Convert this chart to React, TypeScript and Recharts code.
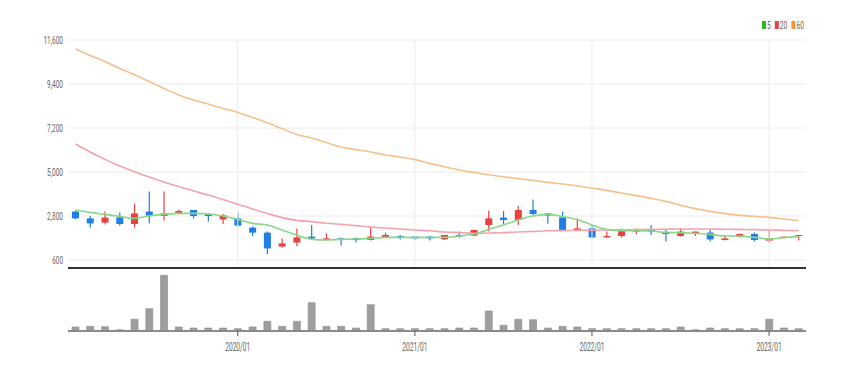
import { ComposedChart, Bar, Line, XAxis, YAxis, CartesianGrid, ReferenceLine } from "recharts"

const months = [
  "2019/02", "2019/03", "2019/04", "2019/05", "2019/06", "2019/07", "2019/08", "2019/09", "2019/10", "2019/11", "2019/12",
  "2020/01", "2020/02", "2020/03", "2020/04", "2020/05", "2020/06", "2020/07", "2020/08", "2020/09", "2020/10", "2020/11", "2020/12",
  "2021/01", "2021/02", "2021/03", "2021/04", "2021/05", "2021/06", "2021/07", "2021/08", "2021/09", "2021/10", "2021/11", "2021/12",
  "2022/01", "2022/02", "2022/03", "2022/04", "2022/05", "2022/06", "2022/07", "2022/08", "2022/09", "2022/10", "2022/11", "2022/12",
  "2023/01", "2023/02", "2023/03",
]

const openPrices = [
  3020, 2680, 2470, 2730, 2400, 3020, 2800, 2930, 3100, 2880, 2630, 2680, 2220, 1970, 1270, 1470, 1770, 1600, 1680, 1680,
  1600, 1730, 1800, 1770, 1770, 1630, 1850, 1820, 2350, 2720, 2600, 3100, 2930, 2730, 2070, 2180, 1730, 1800, 2020, 2130,
  1980, 1800, 1930, 1970, 1600, 1770, 1900, 1570, 1720, 1800,
]
const highPrices = [
  3070, 2800, 3020, 2970, 3400, 4020, 4020, 3130, 3100, 2930, 2900, 2970, 2270, 2020, 1680, 2180, 2350, 1930, 1730, 1730,
  2220, 1970, 1850, 1770, 1800, 1850, 2020, 2130, 3070, 3050, 3300, 3630, 2930, 3020, 2680, 2350, 2020, 2180, 2180, 2350,
  2130, 2180, 2020, 2130, 1850, 1930, 1970, 2100, 1770, 1850,
]
const lowPrices = [
  2630, 2220, 2380, 2320, 2230, 2430, 2570, 2870, 2670, 2520, 2400, 2270, 1800, 900, 1230, 1300, 1600, 1570, 1320, 1470,
  1570, 1700, 1630, 1600, 1570, 1600, 1730, 1800, 2020, 2400, 2350, 2850, 2430, 2050, 2070, 1680, 1730, 1730, 1900, 1850,
  1520, 1770, 1800, 1520, 1570, 1730, 1520, 1480, 1680, 1570,
]
const closePrices = [
  2680, 2430, 2720, 2400, 2930, 2820, 2930, 3050, 2800, 2800, 2830, 2320, 1970, 1180, 1430, 1730, 1680, 1680, 1630, 1600,
  1770, 1850, 1700, 1680, 1680, 1850, 1770, 2100, 2680, 2600, 3100, 2900, 2820, 2070, 2180, 1730, 1800, 2100, 2100, 2020,
  1900, 2020, 2020, 1630, 1680, 1900, 1600, 1680, 1770, 1850,
]
const volumes = [
  400, 470, 430, 130, 1170, 2230, 5570, 400, 300, 300, 300, 230, 400, 970, 470, 970, 2830, 470, 470, 300,
  2630, 230, 230, 230, 230, 230, 300, 300, 2000, 570, 1170, 1130, 300, 470, 400, 230, 230, 230, 230, 230,
  230, 400, 130, 300, 230, 230, 230, 1170, 300, 230,
]
const ma5 = [
  3100, 2980, 2880, 2780, 2680, 2800, 2880, 2930, 2930, 2900, 2800, 2630, 2430, 2350, 2100, 1850, 1630, 1600, 1630, 1650,
  1680, 1730, 1730, 1730, 1730, 1730, 1800, 1900, 2130, 2350, 2600, 2800, 2880, 2770, 2630, 2350, 2130, 2070, 2070, 2050,
  1980, 1970, 1930, 1880, 1800, 1800, 1730, 1650, 1720, 1770,
]
const ma20 = [
  6400, 6000, 5630, 5300, 5020, 4750, 4500, 4270, 4050, 3850, 3620, 3390, 3150, 2930, 2720, 2580, 2520, 2440, 2380, 2320,
  2250, 2200, 2150, 2100, 2060, 2000, 1970, 1940, 1950, 1970, 2000, 2030, 2060, 2070, 2080, 2090, 2100, 2110, 2120, 2130,
  2140, 2150, 2150, 2150, 2140, 2130, 2120, 2100, 2080, 2060,
]
const ma60 = [
  11150, 10830, 10520, 10180, 9860, 9520, 9180, 8850, 8600, 8400, 8180, 7980, 7730, 7460, 7170, 6880, 6700, 6470, 6250, 6120,
  6000, 5850, 5750, 5620, 5430, 5260, 5100, 4980, 4860, 4760, 4670, 4580, 4480, 4400, 4300, 4190, 4080, 3950, 3820, 3680,
  3530, 3340, 3170, 3030, 2920, 2830, 2780, 2730, 2650, 2570,
]

const priceTicks = [600, 2800, 5000, 7200, 9400, 11600]
const yearTicks = ["2020/01", "2021/01", "2022/01", "2023/01"]
const legendItems = [
  { name: "5", color: "#2cb82c" },
  { name: "20", color: "#e84040" },
  { name: "60", color: "#f09a3c" },
]

const UP = "#e8413f"
const DOWN = "#1f7fe3"
const FONT = "Roboto, sans-serif"

const rows = months.map((month, i) => ({
  month,
  open: openPrices[i],
  high: highPrices[i],
  low: lowPrices[i],
  close: closePrices[i],
  vol: volumes[i],
  ma5: ma5[i],
  ma20: ma20[i],
  ma60: ma60[i],
}))

function Candle(props: any) {
  const { x, y, width, height, payload } = props
  if (x == null || y == null || !payload) return null
  const top = Math.min(y, y + height)
  const h = Math.abs(height)
  const { open, close, high, low } = payload
  const k = h / (high - low)
  const py = (v: number) => top + (high - v) * k
  const color = close >= open ? UP : DOWN
  const cx = x + width / 2
  const bodyTop = py(Math.max(open, close))
  const bodyH = Math.max(1, Math.abs(py(open) - py(close)))
  return (
    <g>
      <line x1={cx} x2={cx} y1={py(high)} y2={py(low)} stroke={color} strokeWidth={1.2} />
      <rect x={x} y={bodyTop} width={width} height={bodyH} fill={color} />
    </g>
  )
}

function PriceTick({ x, y, payload }: any) {
  const label = Number(payload.value).toLocaleString("en-US")
  const commas = (label.match(/,/g) || []).length
  const len = (label.length - commas) * 3.6 + commas * 1.6
  return (
    <text x={x - 5} y={y} dy="0.35em" textAnchor="end" fontSize={11} fill="#666" fontFamily={FONT}
      textLength={len} lengthAdjust="spacingAndGlyphs">
      {label}
    </text>
  )
}

function MonthTick({ x, y, payload }: any) {
  if (!yearTicks.includes(payload.value)) return null
  return (
    <g>
      <line x1={x} x2={x} y1={y} y2={y + 5} stroke="#555" strokeWidth={1} />
      <text x={x} y={y + 20} textAnchor="middle" fontSize={12} fill="#666" fontFamily={FONT}
        textLength={25} lengthAdjust="spacingAndGlyphs">
        {payload.value}
      </text>
    </g>
  )
}

function Legend() {
  let cx = 762
  return (
    <svg width={849} height={40} style={{ position: "absolute", left: 0, top: 0, pointerEvents: "none" }}>
      {legendItems.map((item) => {
        const x0 = cx
        const w = item.name.length * 3.8
        cx += 5 + w + 4
        return (
          <g key={item.name}>
            <rect x={x0} y={21} width={4} height={8} fill={item.color} />
            <text x={x0 + 5} y={25} dy="0.35em" fontSize={11} fill="#666" fontFamily={FONT}
              textLength={w} lengthAdjust="spacingAndGlyphs">
              {item.name}
            </text>
          </g>
        )
      })}
    </svg>
  )
}

export default function App() {
  return (
    <div style={{ position: "absolute", left: 0, top: 0, width: 849, height: 365, background: "#fff" }}>
      <ComposedChart width={849} height={270} data={rows} margin={{ top: 40, right: 43, bottom: 1, left: 8 }}>
        <CartesianGrid vertical={false} stroke="#ececec" />
        <XAxis dataKey="month" tick={false} tickLine={false} height={1} axisLine={{ stroke: "#333", strokeWidth: 2 }} />
        <YAxis domain={[200, 11600]} ticks={priceTicks} width={60} axisLine={false} tickLine={false}
          tickSize={0} tickMargin={0} tick={<PriceTick />} allowDataOverflow />
        {yearTicks.map((m) => (
          <ReferenceLine key={m} x={m} stroke="#ececec" />
        ))}
        <Line type="monotone" dataKey="ma60" stroke="#f6c08c" strokeWidth={1.6} dot={false} isAnimationActive={false} />
        <Line type="monotone" dataKey="ma20" stroke="#f5a3aa" strokeWidth={1.6} dot={false} isAnimationActive={false} />
        <Line type="monotone" dataKey="ma5" stroke="#88d888" strokeWidth={1.6} dot={false} isAnimationActive={false} />
        <Bar dataKey={(d: any) => [d.low, d.high]} shape={<Candle />} barSize={7} isAnimationActive={false} />
      </ComposedChart>
      <ComposedChart width={849} height={95} data={rows} margin={{ top: 1, right: 43, bottom: 1, left: 68 }}>
        <XAxis dataKey="month" interval={0} height={33} tickLine={false} tickSize={0} tickMargin={0}
          tick={<MonthTick />} axisLine={{ stroke: "#8a8a8a", strokeWidth: 2 }} />
        <YAxis hide domain={[0, 6000]} />
        <Bar dataKey="vol" fill="#9e9e9e" stroke="#8a8a8a" strokeWidth={0.6} barSize={7} isAnimationActive={false} />
      </ComposedChart>
      <Legend />
    </div>
  )
}
